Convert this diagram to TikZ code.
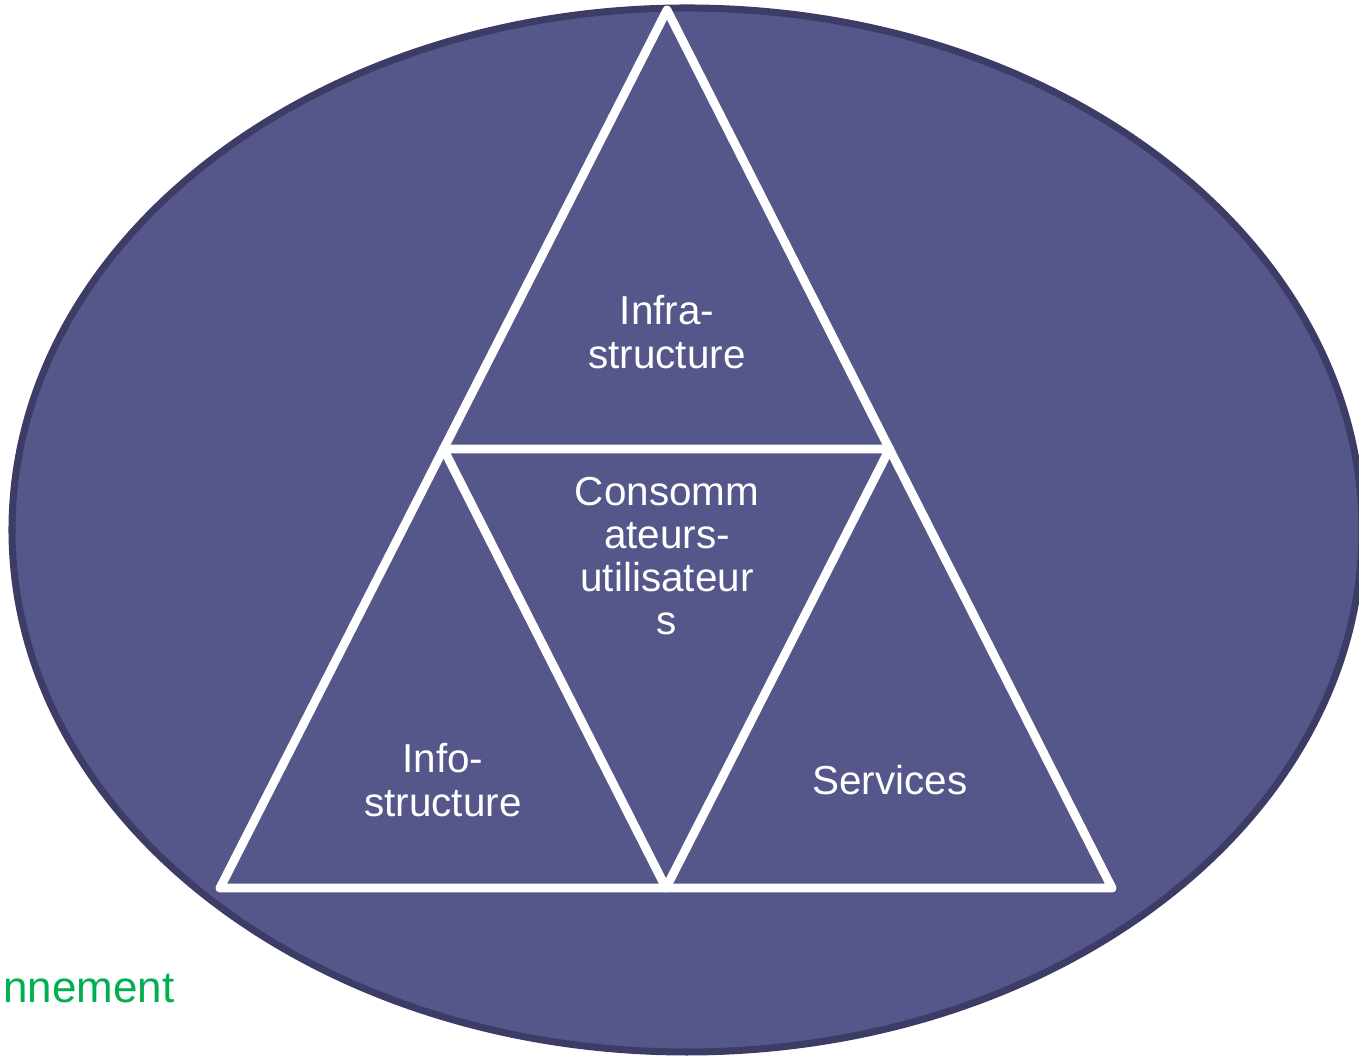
\documentclass[tikz,border=0pt]{standalone}
\usepackage{fontspec}
\setmainfont{Liberation Sans}
\usetikzlibrary{calc}
\definecolor{slate}{RGB}{85,86,138}
\definecolor{slatedark}{RGB}{61,60,102}
\definecolor{envgreen}{RGB}{0,176,80}
\begin{document}
\begin{tikzpicture}[
		part/.style={text=white, align=center, font=\fontsize{11.5}{12.3}\selectfont},
		edge/.style={draw=white, line width=2.5pt, line join=round}
	]
	\useasboundingbox (0,0) rectangle (13.59,10.57);
	% environment
	\fill[slate, draw=slatedark, line width=2pt] (6.87,5.27) ellipse (6.75 and 5.22);
	\node[anchor=east, text=envgreen, font=\fontsize{12.5}{13}\selectfont, inner sep=0pt] (env) at (1.75,0.68) {nnement};
	% triangle corners
	\coordinate (top) at (6.67,10.47);
	\coordinate (bl) at (2.20,1.69);
	\coordinate (br) at (11.12,1.69);
	\coordinate (ml) at ($(top)!0.5!(bl)$);
	\coordinate (mr) at ($(top)!0.5!(br)$);
	\coordinate (mb) at ($(bl)!0.5!(br)$);
	\draw[edge] (top) -- (bl) -- (br) -- cycle;
	\draw[edge] (ml) -- (mr) -- (mb) -- cycle;
	% parts
	\node[part] (infra) at (6.67,7.25) {Infra-\\structure};
	\node[part] (users) at (6.67,5.01) {Consomm\\ateurs-\\utilisateur\\s};
	\node[part] (info) at (4.43,2.77) {Info-\\structure};
	\node[part] (serv) at (8.90,2.77) {Services};
\end{tikzpicture}
\end{document}
